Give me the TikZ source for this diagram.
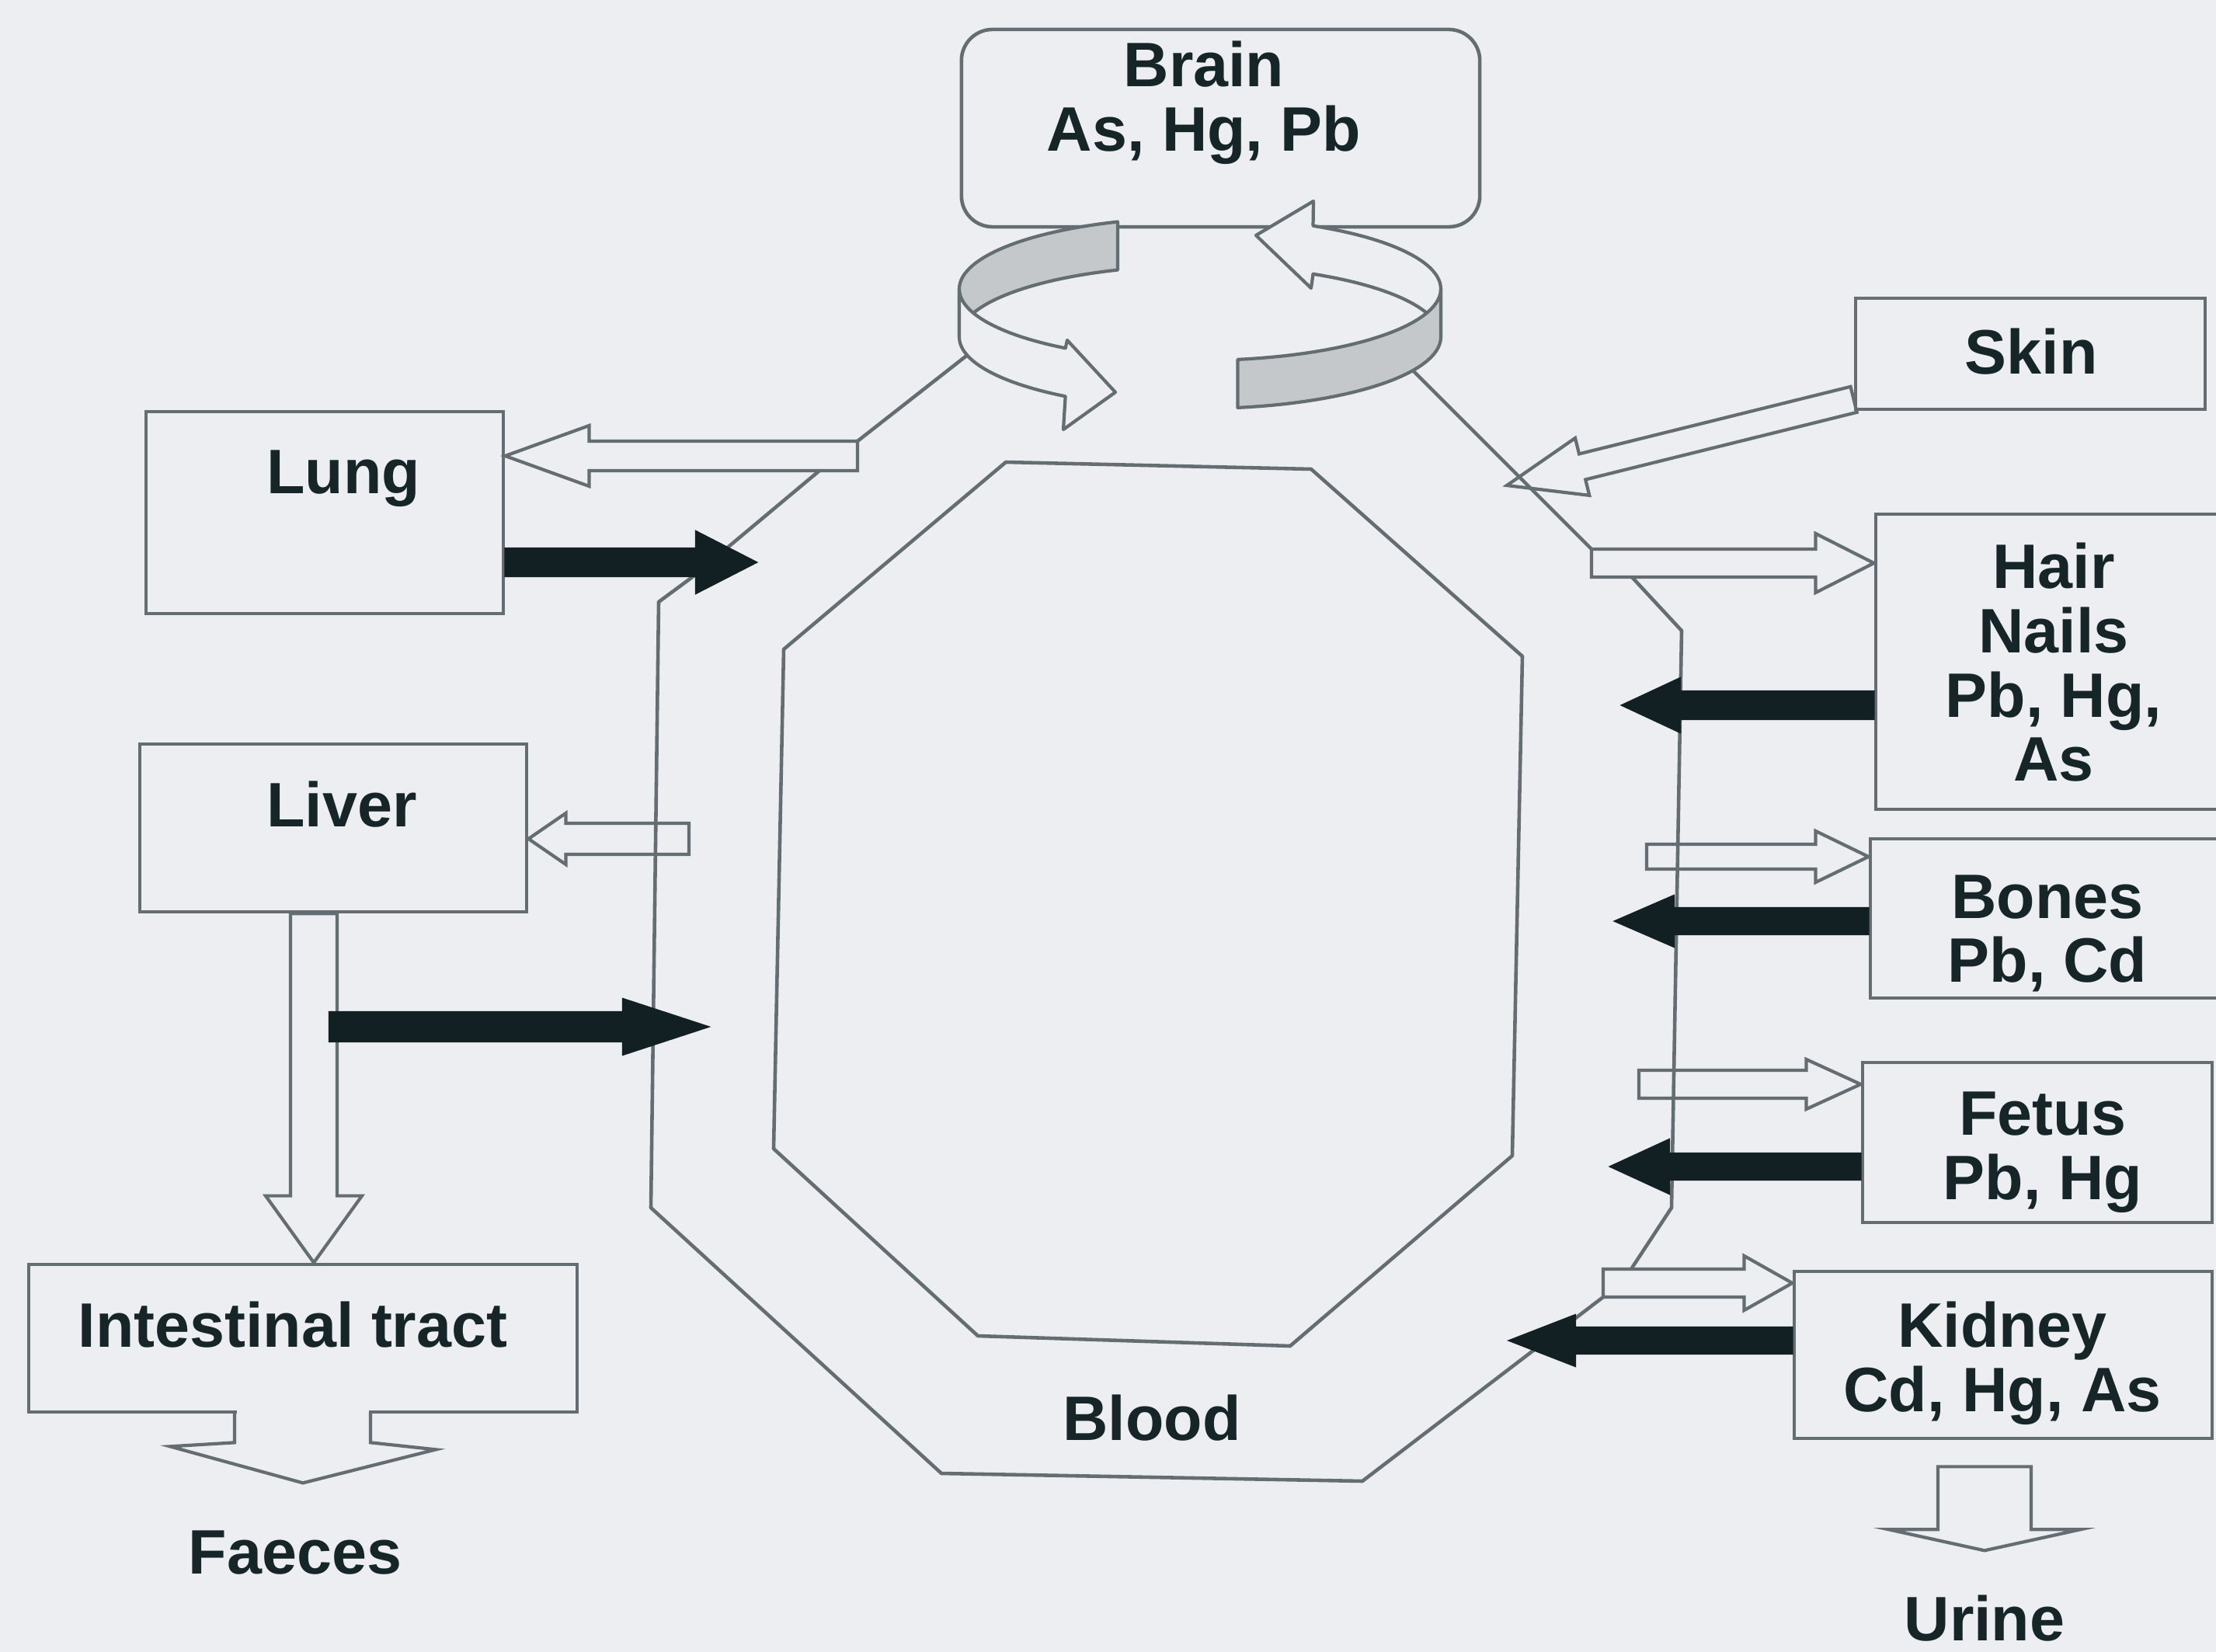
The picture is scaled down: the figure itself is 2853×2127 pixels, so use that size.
\documentclass[tikz,border=0pt]{standalone}
\usepackage{fontspec}
\setmainfont{Liberation Sans}
\usetikzlibrary{calc}

\definecolor{paper}{RGB}{236,238,241}
\definecolor{linecol}{RGB}{100,110,114}
\definecolor{txtcol}{RGB}{22,38,40}
\definecolor{arrblack}{RGB}{18,32,36}
\definecolor{ribgray}{RGB}{196,200,202}

% fat arrow: [style] tail, tip, shaft half width, head half width, head length
\newcommand{\blockarrow}[6][openarr]{%
  \coordinate (ba-base) at ($(#3)!#6!(#2)$);
  \draw[#1] ($(#2)!#4!90:(#3)$) -- ($(ba-base)!#4!-90:(#2)$)
    -- ($(ba-base)!#5!-90:(#2)$) -- (#3) -- ($(ba-base)!#5!90:(#2)$)
    -- ($(ba-base)!#4!90:(#2)$) -- ($(#2)!#4!-90:(#3)$) -- cycle;
}

\begin{document}
\begin{tikzpicture}[x=0.01cm,y=-0.01cm,
  organ/.style={draw=linecol, line width=1.3pt, inner sep=0pt},
  lbl/.style={text=txtcol, font=\fontsize{23}{23.5}\selectfont\bfseries, align=center, inner sep=0pt},
  vessel/.style={draw=linecol, line width=1.3pt, line join=round},
  openarr/.style={draw=linecol, line width=1.2pt, line join=miter},
  solidarr/.style={draw=arrblack, fill=arrblack, line width=0.6pt, line join=miter},
  ribbon/.style={draw=linecol, line width=1.2pt, line join=round}]
  \fill[paper] (0,0) rectangle (2853,2127);
  \useasboundingbox (0,0) rectangle (2853,2127);
  % blood circuit
  \draw[vessel] (1252,452) -- (1104,568);
  \draw[vessel] (1055,606) -- (890,744) -- (848,775) -- (838,1555) -- (1212,1897) -- (1754,1907) -- (2064,1670);
  \draw[vessel] (2100,1634) -- (2152,1555) -- (2165,812) -- (2101,743);
  \draw[vessel] (2049,707) -- (1812,470);
  \draw[vessel] (1295,595) -- (1688,604) -- (1960,845) -- (1947,1488) -- (1661,1733) -- (1259,1720) -- (996,1479) -- (1009,836) -- cycle;
  \node[lbl] (blood) at (1483,1826) {Blood};
  % organ boxes
  \node[organ, rounded corners=0.4cm, minimum width=6.67cm, minimum height=2.54cm] (brain) at (1571.5,165) {};
  \node[organ, minimum width=4.50cm, minimum height=1.43cm] (skin) at (2614,455.5) {};
  \node[organ, minimum width=4.60cm, minimum height=2.60cm] (lung) at (418,660) {};
  \node[organ, minimum width=4.98cm, minimum height=2.16cm] (liver) at (429,1066) {};
  \node[organ, minimum width=7.06cm, minimum height=1.90cm] (gut) at (390,1723) {};
  \node[organ, minimum width=4.45cm, minimum height=3.80cm] (hair) at (2637.5,852) {};
  \node[organ, minimum width=4.52cm, minimum height=2.05cm] (bones) at (2634,1182.5) {};
  \node[organ, minimum width=4.50cm, minimum height=2.06cm] (fetus) at (2623,1471) {};
  \node[organ, minimum width=5.38cm, minimum height=2.15cm] (kidney) at (2579,1744.5) {};
  \node[lbl] (braintxt) at (1550,132) {Brain\\As, Hg, Pb};
  \node[lbl] (skintxt) at (2615,453) {Skin};
  \node[lbl] (lungtxt) at (442,616) {Lung};
  \node[lbl] (livertxt) at (440,1036) {Liver};
  \node[lbl] (guttxt) at (377,1706) {Intestinal tract};
  \node[lbl] (hairtxt) at (2644,853) {Hair\\Nails\\Pb, Hg,\\As};
  \node[lbl] (bonestxt) at (2636,1202) {Bones\\Pb, Cd};
  \node[lbl] (fetustxt) at (2630,1484) {Fetus\\Pb, Hg};
  \node[lbl] (kidneytxt) at (2578,1755) {Kidney\\Cd, Hg, As};
  \node[lbl] (faeces) at (380,1999) {Faeces};
  \node[lbl] (urine) at (2555,2084) {Urine};
  % turning arrows round the brain
  \def\ribx{1545}\def\riby{372}\def\riba{310}\def\ribb{92}\def\ribh{62}
  \filldraw[ribbon, fill=ribgray] plot[domain=250:180, samples=30] ({\ribx+\riba*cos(\x)},{\riby+\ribb*sin(\x)})
    -- plot[domain=180:250, samples=30] ({\ribx+\riba*cos(\x)},{\riby+\ribh+\ribb*sin(\x)}) -- cycle;
  \filldraw[ribbon, fill=paper] plot[domain=360:298, samples=30] ({\ribx+\riba*cos(\x)},{\riby+\ribb*sin(\x)})
    -- (1691,259) -- (1617,303) -- (1688,371)
    -- plot[domain=298:360, samples=30] ({\ribx+\riba*cos(\x)},{\riby+\ribh+\ribb*sin(\x)}) -- cycle;
  \filldraw[ribbon, fill=paper] plot[domain=180:124, samples=30] ({\ribx+\riba*cos(\x)},{\riby+\ribb*sin(\x)})
    -- (1374,438) -- (1436,505) -- (1369,553)
    -- plot[domain=124:180, samples=30] ({\ribx+\riba*cos(\x)},{\riby+\ribh+\ribb*sin(\x)}) -- cycle;
  \filldraw[ribbon, fill=ribgray] plot[domain=81:0, samples=30] ({\ribx+\riba*cos(\x)},{\riby+\ribb*sin(\x)})
    -- plot[domain=0:81, samples=30] ({\ribx+\riba*cos(\x)},{\riby+\ribh+\ribb*sin(\x)}) -- cycle;
  % lung and liver exchanges
  \coordinate (lungout) at (1104,587);
  \coordinate (lungtip) at (lung.east |- lungout);
  \blockarrow{lungout}{lungtip}{0.19cm}{0.39cm}{1.08cm}
  \coordinate (lungin) at (974,724);
  \coordinate (lungfrom) at (lung.east |- lungin);
  \blockarrow[solidarr]{lungfrom}{lungin}{0.18cm}{0.40cm}{0.78cm}
  \coordinate (liverout) at (887,1080);
  \coordinate (livertip) at (liver.east |- liverout);
  \blockarrow{liverout}{livertip}{0.20cm}{0.33cm}{0.48cm}
  \coordinate (gutin) at (404,1628);
  \coordinate (bilefrom) at (liver.south -| gutin);
  \coordinate (biletip) at (gut.north -| gutin);
  \blockarrow{bilefrom}{biletip}{0.30cm}{0.62cm}{0.86cm}
  \coordinate (bilejoin) at (424,1322);
  \coordinate (liverin) at (912,1322);
  \blockarrow[solidarr]{bilejoin}{liverin}{0.19cm}{0.36cm}{1.10cm}
  % faeces out of the gut
  \fill[paper] ($(gut.south)+(-85,-5)$) rectangle ($(gut.south)+(85,4)$);
  \draw[openarr] ($(gut.south)+(-88,-2)$) -- ++(0,39) -- ++(-83,5) -- ($(gut.south)+(0,89)$)
    -- ($(gut.south)+(171,46)$) -- ($(gut.south)+(87,37)$) -- ($(gut.south)+(87,-2)$);
  % skin uptake
  \coordinate (skinfrom) at ($(skin.south west)+(0,-15)$);
  \coordinate (skinin) at (1940,625);
  \blockarrow{skinfrom}{skinin}{0.17cm}{0.38cm}{1.00cm}
  % stores on the right
  \coordinate (hairout) at (2049,725);
  \coordinate (hairtip) at (hair.west |- hairout);
  \blockarrow{hairout}{hairtip}{0.18cm}{0.38cm}{0.75cm}
  \coordinate (hairin) at (2088,908);
  \coordinate (hairfrom) at (hair.west |- hairin);
  \blockarrow[solidarr]{hairfrom}{hairin}{0.18cm}{0.35cm}{0.75cm}
  \coordinate (boneout) at (2120,1103);
  \coordinate (bonetip) at (bones.west |- boneout);
  \blockarrow{boneout}{bonetip}{0.16cm}{0.33cm}{0.68cm}
  \coordinate (bonein) at (2079,1186);
  \coordinate (bonefrom) at (bones.west |- bonein);
  \blockarrow[solidarr]{bonefrom}{bonein}{0.17cm}{0.33cm}{0.76cm}
  \coordinate (fetusout) at (2110,1396);
  \coordinate (fetustip) at (fetus.west |- fetusout);
  \blockarrow{fetusout}{fetustip}{0.18cm}{0.32cm}{0.70cm}
  \coordinate (fetusin) at (2073,1502);
  \coordinate (fetusfrom) at (fetus.west |- fetusin);
  \blockarrow[solidarr]{fetusfrom}{fetusin}{0.17cm}{0.35cm}{0.76cm}
  \coordinate (kidout) at (2064,1652);
  \coordinate (kidtip) at (kidney.west |- kidout);
  \blockarrow{kidout}{kidtip}{0.18cm}{0.35cm}{0.62cm}
  \coordinate (kidin) at (1943,1726);
  \coordinate (kidfrom) at (kidney.west |- kidin);
  \blockarrow[solidarr]{kidfrom}{kidin}{0.17cm}{0.33cm}{0.85cm}
  % urine out of the kidney
  \coordinate (urinetop) at ($(kidney.south -| urine)+(0,34)$);
  \coordinate (urinetip) at ($(urinetop)+(0,108)$);
  \blockarrow{urinetop}{urinetip}{0.60cm}{1.23cm}{0.27cm}
\end{tikzpicture}
\end{document}
